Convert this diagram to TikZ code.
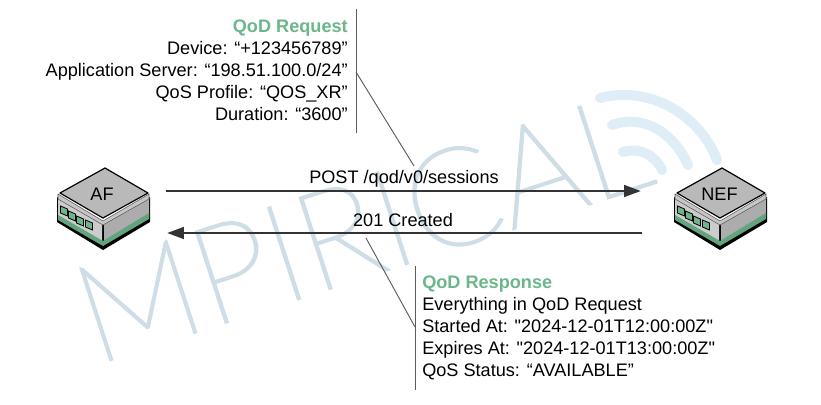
\documentclass[tikz,border=0pt]{standalone}
\usepackage{fontspec}
\setmainfont{Liberation Sans}[Ligatures=TeXOff]
\newfontfamily\markfont{Lato Thin}[FakeBold=2]
\usetikzlibrary{arrows.meta}
\definecolor{qodgreen}{HTML}{6CB68B}
\definecolor{markblue}{HTML}{CFDDE6}
\definecolor{wifiblue}{HTML}{DFEDF6}
\definecolor{inkgrey}{HTML}{333333}
\tikzset{
  bodytext/.style={font=\fontsize{13.6pt}{16.5pt}\selectfont, inner sep=0pt},
  msgline/.style={draw=inkgrey, line width=1.1pt, -{Triangle[length=12.5pt,width=9pt]}},
  noteline/.style={draw=inkgrey!80, line width=0.7pt},
  wifiarc/.style={draw=wifiblue, line width=7.5pt, line cap=round},
  devbox/.style={minimum width=69.75pt, minimum height=61.5pt, inner sep=0pt},
  device/.pic={
    %% body and base
    \fill[black] (-48,29) -- (-48,54) -- (-2,82) -- (45,54) -- (45,29) -- (-2,54) -- cycle;
    \fill[gray!40] (-47,30) -- (-47,48) -- (-3,74) -- (-3,55) -- cycle;
    \fill[gray!65] (-1,55) -- (-1,74) -- (44,48) -- (44,30) -- cycle;
    \fill[qodgreen!90!black] (-47,47) -- (-2,73) -- (44,45) -- (44,51) -- (-2,78) -- (-47,52) -- cycle;
    %% lip
    \filldraw[fill=gray!45, draw=gray!70!black, line width=0.4pt] (-47,26) -- (-2,53) -- (44,26) -- (44,31) -- (-2,57) -- (-47,31) -- cycle;
    %% lid
    \filldraw[fill=gray!55, draw=black, line width=0.9pt, line join=round] (0,0) -- (43,25) -- (-2,50) -- (-45,25) -- cycle;
    %% ports
    \foreach \px/\py in {-41/43, -33/48, -25/53, -16/57}
      \filldraw[fill=qodgreen, draw=black, line width=0.6pt] (\px-3.5,\py-5) -- (\px+3.5,\py-2) -- (\px+3.5,\py+5) -- (\px-3.5,\py+2) -- cycle;
  }
}
\begin{document}
\begin{tikzpicture}[x=0.75pt, y=-0.75pt]
\useasboundingbox (0,0) rectangle (821,404);

      %% watermark
      \node[text=markblue, rotate=18, inner sep=0pt, font=\markfont\fontsize{102pt}{102pt}\selectfont] (mark) at (362,228) {MPIRICAL};
      \draw[wifiarc] (600,98) .. controls (650,85) and (700,115) .. (717,160);
      \draw[wifiarc] (612,125) .. controls (645,113) and (675,135) .. (688,165);
      \draw[wifiarc] (623,152) .. controls (640,147) and (655,155) .. (662,170);

      %% devices
      \pic at (105,168) {device};
      \pic at (722,168) {device};
      \node[devbox] (afbox) at (103.5,209) {};
      \node[devbox] (nefbox) at (720.5,209) {};
      \node[bodytext] (af) at (102,194) {AF};
      \node[bodytext] (nef) at (719.5,194) {NEF};

      %% messages
      \draw[msgline] ([shift={(16,-18)}]afbox.east) -- ([shift={(-33,-18)}]nefbox.west);
      \draw[msgline] ([shift={(-32,24)}]nefbox.west) -- ([shift={(17,24)}]afbox.east);
      \node[bodytext] (post) at (404,178.5) {POST /qod/v0/sessions};
      \node[bodytext] (created) at (403,220) {201 Created};

      %% request note
      \node[bodytext, anchor=north east, align=right] (reqtext) at (348,19.5) {\textbf{\textcolor{qodgreen}{QoD Request}}\\Device: “+123456789”\\Application Server: “198.51.100.0/24”\\QoS Profile: “QOS\_XR”\\Duration: “3600”};
      \coordinate (reqtop) at (356,9);
      \coordinate (reqbot) at (356,133);
      \coordinate (reqmid) at (356,72);
      \coordinate (reqend) at (414,166);
      \draw[noteline] (reqtop) -- (reqbot);
      \draw[noteline] (reqmid) -- (reqend);

      %% response note
      \node[bodytext, anchor=north west, align=left] (resptext) at (422,275.5) {\textbf{\textcolor{qodgreen}{QoD Response}}\\Everything in QoD Request\\Started At: "2024-12-01T12:00:00Z"\\Expires At: "2024-12-01T13:00:00Z"\\QoS Status: “AVAILABLE”};
      \coordinate (resptop) at (415,266);
      \coordinate (respbot) at (415,390);
      \coordinate (respmid) at (415,327);
      \coordinate (respend) at (366,238);
      \draw[noteline] (resptop) -- (respbot);
      \draw[noteline] (respmid) -- (respend);

\end{tikzpicture}
\end{document}
